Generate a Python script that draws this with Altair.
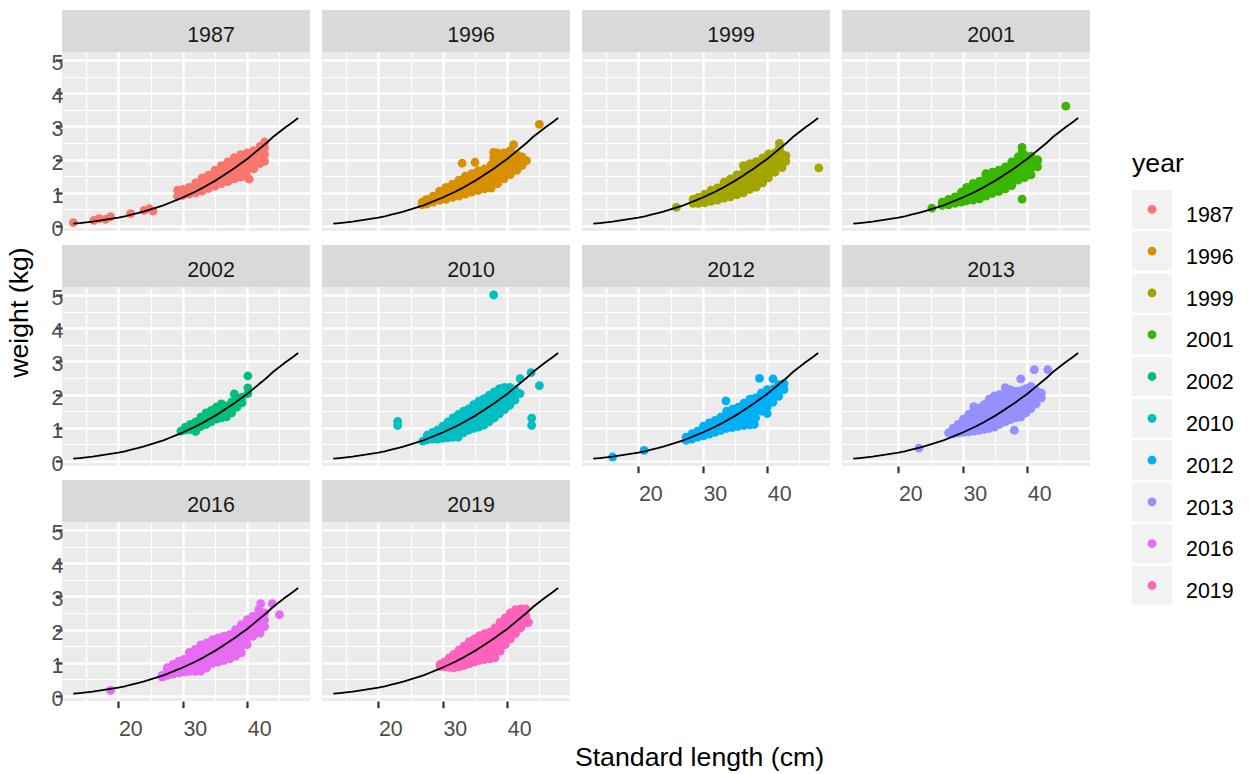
import altair as alt
import pandas as pd

FONT = "Liberation Sans"

years = ["1987", "1996", "1999", "2001", "2002", "2010", "2012", "2013", "2016", "2019"]
year_colors = ["#F8766D", "#D89000", "#A3A500", "#39B600", "#00BF7D",
               "#00BFC4", "#00B0F6", "#9590FF", "#E76BF3", "#FF62BC"]

# Each sample: (standard length cm, [weights kg of fish at that length])
fish_1987 = [(13.0, [0.10]), (16.2, [0.17]), (17.0, [0.22]), (18.0, [0.20]), (18.8, [0.28]),
             (21.9, [0.37]), (24.0, [0.47]), (24.8, [0.52]), (25.4, [0.45]),
             (29.2, [0.90, 1.08]), (30.0, [0.92, 1.10]), (31.0, [0.96, 1.16]),
             (32.0, [1.00, 1.18, 1.30]), (33.0, [1.05, 1.25, 1.45]), (34.0, [1.13, 1.33, 1.53]),
             (35.0, [1.20, 1.40, 1.60, 1.68]), (36.0, [1.28, 1.48, 1.68, 1.82]),
             (37.0, [1.34, 1.54, 1.74, 1.93]), (38.0, [1.42, 1.62, 1.82, 2.02, 2.06]),
             (39.0, [1.47, 1.67, 1.87, 2.07, 2.15]), (40.0, [1.48, 1.68, 1.88, 2.08, 2.20]),
             (40.3, [1.41]), (41.0, [1.72, 1.92, 2.12, 2.27]), (42.0, [1.88, 2.08, 2.28, 2.40]),
             (42.7, [1.95, 2.15, 2.35, 2.53])]
fish_1996 = [(26.8, [0.64, 0.72]), (27.5, [0.66, 0.80]), (28.5, [0.72, 0.90]),
             (29.5, [0.77, 0.97, 1.05]), (30.5, [0.80, 1.00, 1.16]), (31.5, [0.86, 1.06, 1.26]),
             (32.5, [0.90, 1.10, 1.30, 1.38]), (33.0, [1.89]), (33.5, [0.96, 1.16, 1.36, 1.50]),
             (34.5, [1.02, 1.22, 1.42, 1.58]), (35.0, [1.92]), (35.5, [1.07, 1.27, 1.47, 1.67]),
             (36.5, [1.12, 1.32, 1.52, 1.72]), (37.5, [1.14, 1.34, 1.54, 1.74, 1.85]),
             (37.9, [2.05, 2.22]), (38.5, [1.28, 1.48, 1.68, 1.88, 2.08, 2.20]),
             (39.5, [1.42, 1.62, 1.82, 2.02, 2.20]), (40.5, [1.55, 1.75, 1.95, 2.15, 2.28]),
             (41.0, [2.45]), (41.5, [1.68, 1.88, 2.05, 2.15]), (42.3, [1.82, 1.98, 2.08]),
             (43.0, [1.97]), (45.0, [3.06])]
fish_1999 = [(25.9, [0.56]), (28.5, [0.68, 0.80]), (29.3, [0.68, 0.86]),
             (30.3, [0.70, 0.90, 0.96]), (31.3, [0.74, 0.94, 1.08]), (32.3, [0.78, 0.98, 1.15]),
             (33.3, [0.84, 1.04, 1.24, 1.32]), (34.3, [0.88, 1.08, 1.28, 1.42]),
             (35.3, [0.94, 1.14, 1.34, 1.54]), (36.3, [1.00, 1.20, 1.40, 1.60, 1.82]),
             (37.3, [1.10, 1.30, 1.50, 1.70, 1.88]), (38.3, [1.17, 1.37, 1.57, 1.77, 1.94]),
             (39.3, [1.30, 1.50, 1.70, 1.90, 2.05]), (40.2, [1.45, 1.65, 1.85, 2.05, 2.17]),
             (41.2, [1.62, 1.82, 2.02, 2.20]), (41.9, [2.35, 2.49]), (42.3, [1.76, 1.96, 2.16]),
             (42.9, [1.95, 2.12]), (48.0, [1.75])]
fish_2001 = [(25.2, [0.54]), (26.8, [0.62, 0.72]), (27.8, [0.64, 0.80]), (28.8, [0.68, 0.88]),
             (29.8, [0.72, 0.92, 1.02]), (30.6, [0.76, 0.96, 1.16]),
             (31.6, [0.78, 0.98, 1.18, 1.28]), (32.6, [0.82, 1.02, 1.22, 1.35]),
             (33.6, [0.90, 1.10, 1.30, 1.50, 1.58]), (34.6, [0.98, 1.18, 1.38, 1.58, 1.62]),
             (35.6, [1.04, 1.24, 1.44, 1.64, 1.68]), (36.6, [1.12, 1.32, 1.52, 1.72, 1.78]),
             (37.6, [1.22, 1.42, 1.62, 1.82, 1.93]), (38.6, [1.38, 1.58, 1.78, 1.98, 2.08]),
             (39.2, [0.81, 2.22, 2.37]), (39.6, [1.46, 1.66, 1.86, 2.06, 2.14]),
             (40.6, [1.54, 1.74, 1.94, 2.10]), (41.6, [1.78, 1.95, 2.00]), (46.0, [3.61])]
fish_2002 = [(29.7, [0.90]), (30.4, [0.93, 1.02]), (31.2, [0.95, 1.10]),
             (32.0, [0.89, 1.02, 1.18]), (32.8, [1.04, 1.20, 1.32]), (33.6, [1.10, 1.28, 1.45]),
             (34.4, [1.18, 1.36, 1.52]), (35.2, [1.26, 1.42, 1.62]), (36.0, [1.30, 1.48, 1.72]),
             (36.8, [1.33, 1.50, 1.66]), (37.6, [1.45, 1.62, 1.78]), (38.0, [2.02]),
             (38.4, [1.62, 1.80, 1.90]), (39.2, [1.75, 1.92]), (40.1, [2.03, 2.20, 2.56])]
fish_2010 = [(23.0, [1.07, 1.19]), (26.9, [0.60]), (27.6, [0.64, 0.78]), (28.4, [0.66, 0.86]),
             (29.2, [0.66, 0.86, 0.94]), (30.0, [0.68, 0.88, 1.05]),
             (30.8, [0.70, 0.90, 1.10, 1.18]), (31.6, [0.71, 0.91, 1.11, 1.30]),
             (32.4, [0.72, 0.92, 1.12, 1.32, 1.40]), (33.2, [0.85, 1.05, 1.25, 1.45, 1.50]),
             (34.0, [0.93, 1.13, 1.33, 1.53, 1.57]), (34.8, [0.98, 1.18, 1.38, 1.58, 1.70]),
             (35.6, [1.02, 1.22, 1.42, 1.62, 1.80]), (36.4, [1.08, 1.28, 1.48, 1.68, 1.88]),
             (37.2, [1.18, 1.38, 1.58, 1.78, 1.98]), (37.9, [5.00]),
             (38.0, [1.30, 1.50, 1.70, 1.90, 2.08]), (38.8, [1.42, 1.62, 1.82, 2.02, 2.18]),
             (39.6, [1.55, 1.75, 1.95, 2.15, 2.22]), (40.4, [1.68, 1.88, 2.08, 2.22]),
             (41.2, [1.83, 2.03, 2.15]), (42.0, [2.03, 2.48]), (43.7, [2.66]),
             (43.8, [1.07, 1.29]), (45.0, [2.27])]
fish_2012 = [(16.0, [0.12]), (20.9, [0.32]), (27.4, [0.62, 0.72]), (28.3, [0.66, 0.82]),
             (29.2, [0.72, 0.90]), (30.1, [0.76, 0.96, 1.05]), (31.0, [0.81, 1.01, 1.15]),
             (31.9, [0.86, 1.06, 1.22]), (32.8, [0.92, 1.12, 1.32]), (33.6, [1.81]),
             (33.7, [0.98, 1.18, 1.38, 1.50]), (34.6, [1.01, 1.21, 1.41, 1.56]),
             (35.5, [1.04, 1.24, 1.44, 1.62]), (36.4, [1.07, 1.27, 1.47, 1.67, 1.74]),
             (37.3, [1.09, 1.29, 1.49, 1.69, 1.86]), (38.0, [1.10]), (38.2, [1.30, 1.50, 1.70, 1.90]),
             (38.8, [2.49]), (39.1, [1.50, 1.70, 1.90, 2.05]),
             (40.0, [1.43, 1.63, 1.83, 2.03, 2.15]), (40.9, [1.77, 1.97, 2.17, 2.47]),
             (41.8, [1.95, 2.15, 2.30]), (42.6, [2.15, 2.33])]
fish_2013 = [(23.2, [0.39]), (27.8, [0.85]), (28.5, [0.82, 0.98]), (29.3, [0.85, 1.05, 1.10]),
             (30.1, [0.86, 1.06, 1.26]), (30.9, [0.88, 1.08, 1.28, 1.40]),
             (31.7, [0.90, 1.10, 1.30, 1.50, 1.64]), (32.5, [0.92, 1.12, 1.32, 1.52, 1.60]),
             (33.3, [0.95, 1.15, 1.35, 1.55, 1.70]), (34.1, [0.98, 1.18, 1.38, 1.58, 1.78, 1.86]),
             (34.9, [1.02, 1.22, 1.42, 1.62, 1.82, 1.96]),
             (35.7, [1.10, 1.30, 1.50, 1.70, 1.90, 2.00]),
             (36.6, [1.18, 1.38, 1.58, 1.78, 1.98, 2.21]),
             (37.4, [1.25, 1.45, 1.65, 1.85, 2.05, 2.15]), (38.0, [0.93]),
             (38.2, [1.30, 1.50, 1.70, 1.90, 2.10]), (39.0, [1.32, 1.52, 1.72, 1.92, 2.12, 2.47]),
             (39.8, [1.45, 1.65, 1.85, 2.05, 2.18]), (40.6, [1.58, 1.78, 1.98, 2.18, 2.25]),
             (41.1, [2.75]), (41.4, [1.72, 1.92, 2.12]), (42.2, [1.90, 2.05]), (43.2, [2.75])]
fish_2016 = [(18.8, [0.17]), (26.8, [0.57, 0.62]), (27.6, [0.62, 0.80, 0.85]),
             (28.5, [0.66, 0.86, 0.95]), (29.4, [0.70, 0.90, 1.05]), (30.2, [0.72, 0.92, 1.10]),
             (31.0, [0.74, 0.94, 1.14, 1.31]), (31.9, [0.74, 0.94, 1.14, 1.34, 1.40]),
             (32.8, [0.75, 0.95, 1.15, 1.35, 1.54]), (33.7, [0.85, 1.05, 1.25, 1.45, 1.60]),
             (34.6, [0.98, 1.18, 1.38, 1.58, 1.70]), (35.5, [1.02, 1.22, 1.42, 1.62, 1.75]),
             (36.4, [1.07, 1.27, 1.47, 1.67, 1.80]), (37.3, [1.12, 1.32, 1.52, 1.72, 1.85]),
             (38.2, [1.20, 1.40, 1.60, 1.80, 2.00]), (39.1, [1.30, 1.50, 1.70, 1.90, 2.15]),
             (40.0, [1.55, 1.75, 1.95, 2.15, 2.30]), (40.9, [1.80, 2.00, 2.20, 2.40]),
             (41.8, [2.00, 2.20, 2.40, 2.60]), (42.0, [1.89]), (42.1, [2.78]),
             (42.7, [2.09, 2.30, 2.50]), (43.9, [2.78]), (45.0, [2.45])]
fish_2019 = [(29.6, [0.89, 0.96]), (30.3, [0.88, 1.03]), (31.0, [0.86, 1.06, 1.15]),
             (31.7, [0.85, 1.05, 1.25]), (32.5, [0.88, 1.08, 1.28, 1.38]),
             (33.3, [0.92, 1.12, 1.32, 1.50]), (34.1, [0.97, 1.17, 1.37, 1.57, 1.64]),
             (34.9, [1.02, 1.22, 1.42, 1.62, 1.72]), (35.7, [1.07, 1.27, 1.47, 1.67, 1.82]),
             (36.5, [1.10, 1.30, 1.50, 1.70, 1.88]), (37.3, [1.12, 1.32, 1.52, 1.72, 1.92]),
             (38.1, [1.15, 1.35, 1.55, 1.75, 1.95, 2.05]),
             (38.9, [1.35, 1.55, 1.75, 1.95, 2.15, 2.22]),
             (39.7, [1.55, 1.75, 1.95, 2.15, 2.35]), (40.5, [1.72, 1.92, 2.12, 2.32, 2.50]),
             (41.3, [1.88, 2.08, 2.28, 2.48, 2.60]), (42.1, [2.05, 2.25, 2.45, 2.62]),
             (42.9, [2.20, 2.40, 2.62]), (43.3, [2.22])]

# fitted length-weight relationship, shared by every panel
curve_len = [13, 14, 15, 16, 17, 18, 19, 20, 21, 22, 23, 24, 25, 26, 27, 28, 29, 30, 31, 32,
             33, 34, 35, 36, 37, 38, 39, 40, 41, 42, 43, 44, 45, 46, 47, 47.9]
curve_wt = [0.07, 0.09, 0.11, 0.13, 0.16, 0.19, 0.22, 0.25, 0.29, 0.34, 0.39, 0.44, 0.50, 0.56,
            0.62, 0.70, 0.78, 0.86, 0.95, 1.04, 1.14, 1.25, 1.36, 1.48, 1.61, 1.74, 1.88, 2.02,
            2.18, 2.34, 2.50, 2.68, 2.83, 2.98, 3.12, 3.25]

x_ticks = [15, 20, 25, 30, 35, 40, 45]
y_ticks = [0, 0.5, 1, 1.5, 2, 2.5, 3, 3.5, 4, 4.5, 5]

samples = [fish_1987, fish_1996, fish_1999, fish_2001, fish_2002,
           fish_2010, fish_2012, fish_2013, fish_2016, fish_2019]
rows = []
for yr, sample in zip(years, samples):
    for length, weights in sample:
        for weight in weights:
            rows.append({"year": yr, "length": length, "weight": weight})
points_df = pd.DataFrame(rows)
curve_df = pd.DataFrame({"length": curve_len, "weight": curve_wt})

PW, PH = 248, 179
STRIP = 42
TICK_FS = 21.4
TITLE_FS = 26.7
DOT = 78

x_scale = alt.Scale(domain=[11.25, 49.75], nice=False, zero=False)
y_scale = alt.Scale(domain=[-0.15, 5.24], nice=False, zero=False)
color_scale = alt.Scale(domain=years, range=year_colors)


def make_axis(values, major_test, show, offsets, title_opts):
    opts = dict(
        values=values, grid=True, domain=False, gridColor="white", gridOpacity=1,
        gridWidth={"condition": {"test": major_test, "value": 2.4}, "value": 1.2},
        ticks=show, labels=show, tickSize=6.7, tickWidth=2.2,
        tickColor={"condition": {"test": major_test, "value": "#333333"}, "value": "rgba(0,0,0,0)"},
        labelExpr="(" + major_test + ") ? format(datum.value, 'd') : ''",
        labelFont=FONT, labelFontSize=TICK_FS, labelColor="#4D4D4D",
        labelOverlap=False, labelFlush=False,
    )
    opts.update(offsets)
    opts.update(title_opts)
    return alt.Axis(**opts)


def panel(year, show_x, show_y, x_title=False, y_title=False):
    x_title_opts = {"title": None}
    if x_title:
        x_title_opts = dict(title="Standard length (cm)", titleX=377, titleY=64,
                            titleAlign="center", titleBaseline="alphabetic",
                            titleFont=FONT, titleFontSize=TITLE_FS, titleColor="black",
                            titleFontWeight="normal")
    y_title_opts = {"title": None}
    if y_title:
        y_title_opts = dict(title="weight (kg)", titleX=-35, titleY=25, titleAngle=270,
                            titleAlign="center", titleBaseline="alphabetic",
                            titleFont=FONT, titleFontSize=TITLE_FS, titleColor="black",
                            titleFontWeight="normal")
    x_axis = make_axis(x_ticks, "datum.value % 10 === 0", show_x,
                       dict(labelPadding=11, labelOffset=12), x_title_opts)
    y_axis = make_axis(y_ticks, "datum.value % 1 === 0", show_y,
                       dict(labelPadding=-7.7, labelOffset=3.5), y_title_opts)
    enc_x = alt.X("length:Q", scale=x_scale, axis=x_axis)
    enc_y = alt.Y("weight:Q", scale=y_scale, axis=y_axis)

    strip_df = pd.DataFrame({"year": [year]})
    strip_bg = alt.Chart(strip_df).mark_rect(color="#D9D9D9").encode(
        x=alt.value(0), x2=alt.value(PW), y=alt.value(-STRIP), y2=alt.value(0))
    strip_txt = alt.Chart(strip_df).mark_text(
        font=FONT, fontSize=TICK_FS, color="#1A1A1A", align="center", baseline="alphabetic"
    ).encode(x=alt.value(149), y=alt.value(-10), text="year:N")

    dots = alt.Chart(points_df).transform_filter(alt.datum.year == year).mark_circle(
        size=DOT, opacity=1).encode(
        x=enc_x, y=enc_y, color=alt.Color("year:N", scale=color_scale, legend=None))
    fit = alt.Chart(curve_df).mark_line(color="black", strokeWidth=1.8).encode(x=enc_x, y=enc_y)

    return alt.layer(strip_bg, strip_txt, dots, fit).properties(
        width=PW, height=PH, view=alt.ViewBackground(fill="#EBEBEB", stroke=None))


panels = [
    panel("1987", False, True),
    panel("1996", False, False),
    panel("1999", False, False),
    panel("2001", False, False),
    panel("2002", False, True, y_title=True),
    panel("2010", False, False),
    panel("2012", True, False),
    panel("2013", True, False),
    panel("2016", True, True),
    panel("2019", True, False, x_title=True),
]

grid = alt.concat(*panels, columns=4, spacing={"row": 56, "column": 12}, bounds="flush")

# legend: grey keys with coloured dots and year labels
legend_df = pd.DataFrame({"year": years})
legend_title_df = pd.DataFrame({"year": ["year"]})
leg_y = alt.Y("year:N", scale=alt.Scale(domain=["year"] + years, range=[96, 553],
                                        paddingInner=0.067, paddingOuter=0), axis=None)
keys = alt.Chart(legend_df).mark_rect(color="#F2F2F2").encode(
    y=leg_y, x=alt.value(0), x2=alt.value(40))
key_dots = alt.Chart(legend_df).mark_circle(size=DOT, opacity=1).encode(
    y=leg_y, x=alt.value(20), color=alt.Color("year:N", scale=color_scale, legend=None))
key_labels = alt.Chart(legend_df).mark_text(
    font=FONT, fontSize=TICK_FS, color="black", align="left", baseline="alphabetic", dy=12.7
).encode(y=leg_y, x=alt.value(54), text="year:N")
key_title = alt.Chart(legend_title_df).mark_text(
    font=FONT, fontSize=TITLE_FS, color="black", align="left", baseline="alphabetic", dy=4.5
).encode(y=leg_y, x=alt.value(0), text="year:N")
legend = alt.layer(keys, key_dots, key_labels, key_title).properties(width=105, height=560)

chart = alt.hconcat(grid, legend, spacing=42).properties(
    padding={"left": 5, "top": 10, "right": 2, "bottom": 2}
).configure(font=FONT).configure_view(stroke=None)

chart.save("out.html", embed_options={"renderer": "svg", "actions": False})
